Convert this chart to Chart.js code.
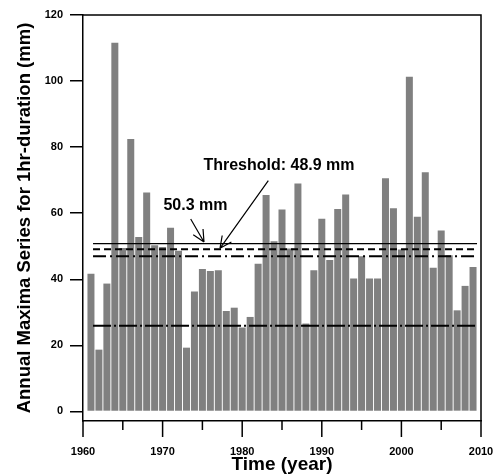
<!DOCTYPE html>
<html>
<head>
<meta charset="utf-8">
<script src="https://cdn.jsdelivr.net/npm/chart.js@4"></script>
<style>
  html, body { margin: 0; padding: 0; background: #fff; }
  #wrap { width: 496px; height: 474px; }
</style>
</head>
<body>
<div id="wrap"><canvas id="amsChart"></canvas></div>
<script>
// Annual maxima, 1hr duration (mm)
const years = [];
for (let y = 1961; y <= 2009; y++) years.push(y);
const maxima = [
  41.7, 18.7, 38.7, 111.6, 49.5, 82.5, 52.8, 66.3, 50.3, 49.8,
  55.6, 48.6, 19.3, 36.3, 43.1, 42.5, 42.7, 30.4, 31.4, 25.4,
  28.6, 44.7, 65.5, 51.5, 61.1, 49.3, 69.0, 26.6, 42.7, 58.3,
  45.8, 61.3, 65.7, 40.2, 47.0, 40.2, 40.2, 70.6, 61.5, 49.0,
  101.3, 58.9, 72.4, 43.5, 54.8, 47.3, 30.6, 38.0, 43.7
];

// horizontal reference levels (mm) and the span they are drawn over
const levelNames = ["solid", "threshold", "dashdot", "low"];
const levelValues = [50.8, 49.1, 47.0, 25.9];
const levelSpan = [1961.26, 2009.5];

const yTicks = [0, 20, 40, 60, 80, 100, 120];
const xTickMajor = [1960, 1970, 1980, 1990, 2000, 2010];
const xTickMinor = [1965, 1975, 1985, 1995, 2005];

const FONT = "'Liberation Sans', Arial, sans-serif";

const lineStyles = {
  solid:     { width: 1.4, dash: [] },
  threshold: { width: 2,   dash: [7, 4] },
  dashdot:   { width: 2,   dash: [13, 4, 2, 4] },
  low:       { width: 2,   dash: [18, 3, 2, 3] }
};

const levelSets = levelNames.map((n, i) => ({
  type: 'line',
  data: levelSpan.map(x => ({ x: x, y: levelValues[i] })),
  borderColor: '#000',
  borderWidth: lineStyles[n].width,
  borderDash: lineStyles[n].dash,
  pointRadius: 0,
  fill: false,
  order: 0
}));

// arrows + labels, in data coords
const notes = [
  { text: 'Threshold: 48.9 mm', x: 1984.62, y: 74.3 },
  { text: '50.3 mm', x: 1974.13, y: 62.2 }
];
const arrows = [
  { from: [1973.53, 58.25], to: [1975.2, 51.3] },
  { from: [1983.28, 69.84], to: [1977.21, 49.38] }
];

const extras = {
  id: 'extras',
  afterDatasetsDraw(chart) {
    const { ctx, chartArea: a, scales: { x, y } } = chart;
    ctx.save();
    ctx.strokeStyle = '#000';
    ctx.fillStyle = '#000';

    // frame top + right
    ctx.lineWidth = 1.5;
    ctx.beginPath();
    ctx.moveTo(a.left, a.top);
    ctx.lineTo(a.right, a.top);
    ctx.lineTo(a.right, a.bottom);
    ctx.stroke();

    // x ticks, major long / minor short
    xTickMajor.concat(xTickMinor).forEach(v => {
      const px = x.getPixelForValue(v);
      const len = xTickMajor.includes(v) ? 16 : 9;
      ctx.beginPath();
      ctx.moveTo(px, a.bottom);
      ctx.lineTo(px, a.bottom + len);
      ctx.stroke();
    });

    // arrows
    ctx.lineWidth = 1.2;
    arrows.forEach(ar => {
      const x0 = x.getPixelForValue(ar.from[0]), y0 = y.getPixelForValue(ar.from[1]);
      const x1 = x.getPixelForValue(ar.to[0]), y1 = y.getPixelForValue(ar.to[1]);
      const ang = Math.atan2(y1 - y0, x1 - x0);
      ctx.beginPath();
      ctx.moveTo(x0, y0);
      ctx.lineTo(x1, y1);
      [-0.45, 0.45].forEach(d => {
        ctx.moveTo(x1, y1);
        ctx.lineTo(x1 - 13 * Math.cos(ang + d), y1 - 13 * Math.sin(ang + d));
      });
      ctx.stroke();
    });

    ctx.font = 'bold 16px ' + FONT;
    ctx.textAlign = 'center';
    ctx.textBaseline = 'middle';
    notes.forEach(n => ctx.fillText(n.text, x.getPixelForValue(n.x), y.getPixelForValue(n.y)));
    ctx.restore();
  }
};

new Chart(document.getElementById('amsChart'), {
  type: 'bar',
  data: {
    datasets: [
      {
        type: 'bar',
        data: years.map((yr, i) => ({ x: yr, y: maxima[i] })),
        backgroundColor: '#808080',
        borderWidth: 0,
        barPercentage: 1,
        categoryPercentage: 0.88,
        order: 1
      },
      ...levelSets
    ]
  },
  options: {
    responsive: true,
    maintainAspectRatio: false,
    animation: false,
    events: [],
    layout: { padding: { left: 0, top: 15, right: 15, bottom: 0 } },
    plugins: { legend: { display: false }, tooltip: { enabled: false } },
    scales: {
      x: {
        type: 'linear',
        min: 1960, max: 2010,
        offset: false,
        afterFit: s => { s.height = 53; s.paddingLeft = 0; s.paddingRight = 0; },
        afterBuildTicks: s => { s.ticks = xTickMajor.map(v => ({ value: v })); },
        grid: { display: false, drawTicks: false },
        border: { display: true, color: '#000', width: 1.5 },
        ticks: {
          color: '#000', padding: 24, maxRotation: 0,
          font: { family: FONT, size: 11, weight: 'bold' },
          callback: v => String(v)
        },
        title: {
          display: true, text: 'Time (year)', color: '#000',
          font: { family: FONT, size: 19, weight: 'bold', lineHeight: 1 },
          padding: { top: 0, bottom: 0 }
        }
      },
      y: {
        min: -2.9, max: 120,
        afterFit: s => { s.width = 83; s.paddingTop = 0; s.paddingBottom = 0; },
        afterBuildTicks: s => { s.ticks = yTicks.map(v => ({ value: v })); },
        grid: { drawOnChartArea: false, tickLength: 13, color: '#000', lineWidth: 1.5 },
        border: { display: true, color: '#000', width: 1.5 },
        ticks: {
          color: '#000', padding: 7,
          font: { family: FONT, size: 11, weight: 'bold' },
          callback: v => String(v)
        },
        title: {
          display: true, text: 'Annual Maxima Series for 1hr-duration (mm)', color: '#000',
          font: { family: FONT, size: 18.5, weight: 'bold' },
          padding: { top: 14, bottom: 0 }
        }
      }
    }
  },
  plugins: [extras]
});
</script>
</body>
</html>
